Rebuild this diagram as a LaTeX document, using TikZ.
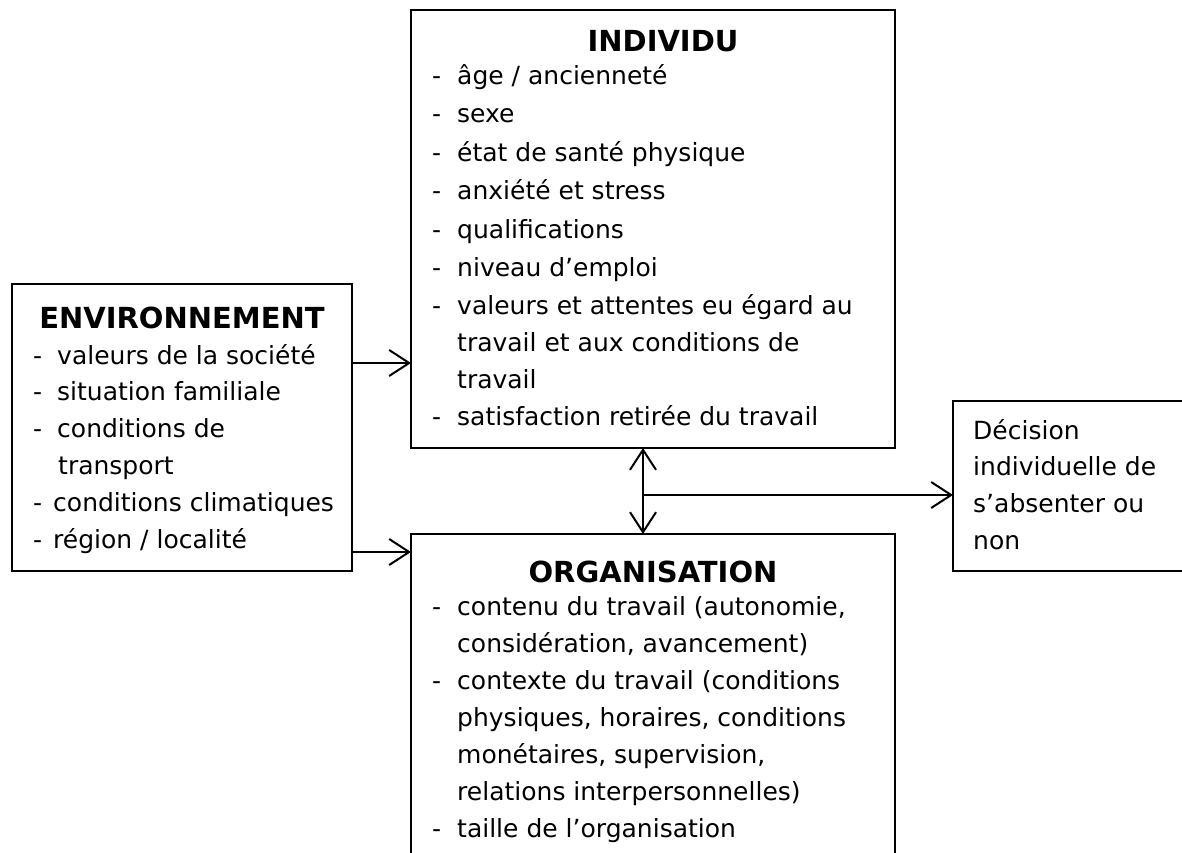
\documentclass[tikz,border=0pt]{standalone}
\usepackage{fontspec}
\setmainfont{DejaVu Sans}
\usetikzlibrary{arrows.meta}

\newlength{\du}
\setlength{\du}{10\unitlength}
\newcommand{\tiret}[1][25pt]{\makebox[#1][l]{-}}
\definecolor{dialinecolor}{rgb}{0.000000, 0.000000, 0.000000}
\tikzset{
  boite/.style={draw=dialinecolor, line width=0.25\du, inner sep=0pt, outer sep=0pt, anchor=north west},
  titre/.style={anchor=base, inner sep=0pt, font=\bfseries\fontsize{29}{35}\selectfont},
  ligne/.style={anchor=base west, inner sep=0pt, font=\fontsize{25}{30}\selectfont},
  fleche/.style={draw=dialinecolor, line width=0.2\du, -{Straight Barb[length=20pt,width=26pt]}},
  fleches/.style={draw=dialinecolor, line width=0.2\du, {Straight Barb[length=20pt,width=26pt]}-{Straight Barb[length=20pt,width=26pt]}},
}

\begin{document}
\begin{tikzpicture}
\pgftransformxscale{1.000000}
\pgftransformyscale{-1.000000}
\useasboundingbox (0\du,0\du) rectangle (118.2\du,85.3\du);
% boxes
\node[boite, minimum width=34.0\du, minimum height=28.7\du] (env) at (1.2\du,28.4\du) {};
\node[boite, minimum width=48.4\du, minimum height=43.8\du] (individu) at (41.1\du,1.0\du) {};
\node[boite, minimum width=48.4\du, minimum height=33.6\du] (organisation) at (41.1\du,53.4\du) {};
\node[boite, minimum width=24.7\du, minimum height=17.0\du] (decision) at (95.3\du,40.1\du) {};
% environnement
\node[titre] (env-titre) at (18.2\du,32.8\du) {ENVIRONNEMENT};
\node[ligne] (env-1) at (3.3\du,36.4\du) {\tiret[24pt]valeurs de la société};
\node[ligne] (env-2) at (3.3\du,40.0\du) {\tiret[24pt]situation familiale};
\node[ligne] (env-3) at (3.3\du,43.7\du) {\tiret[24pt]conditions de};
\node[ligne] (env-3b) at (5.8\du,47.4\du) {transport};
\node[ligne] (env-4) at (3.3\du,51.1\du) {\tiret[20pt]conditions climatiques};
\node[ligne] (env-5) at (3.3\du,54.8\du) {\tiret[20pt]région / localité};
% individu
\node[titre] (ind-titre) at (66.3\du,5.2\du) {INDIVIDU};
\node[ligne] (ind-1) at (43.2\du,8.5\du) {\tiret âge / ancienneté};
\node[ligne] (ind-2) at (43.2\du,12.3\du) {\tiret sexe};
\node[ligne] (ind-3) at (43.2\du,16.1\du) {\tiret état de santé physique};
\node[ligne] (ind-4) at (43.2\du,19.9\du) {\tiret anxiété et stress};
\node[ligne] (ind-5) at (43.2\du,23.8\du) {\tiret qualifications};
\node[ligne] (ind-6) at (43.2\du,27.6\du) {\tiret niveau d’emploi};
\node[ligne] (ind-7) at (43.2\du,31.4\du) {\tiret valeurs et attentes eu égard au};
\node[ligne] (ind-7b) at (45.7\du,35.1\du) {travail et aux conditions de};
\node[ligne] (ind-7c) at (45.7\du,38.8\du) {travail};
\node[ligne] (ind-8) at (43.2\du,42.5\du) {\tiret satisfaction retirée du travail};
% organisation
\node[titre] (org-titre) at (65.3\du,58.2\du) {ORGANISATION};
\node[ligne] (org-1) at (43.2\du,61.5\du) {\tiret contenu du travail (autonomie,};
\node[ligne] (org-1b) at (45.7\du,65.2\du) {considération, avancement)};
\node[ligne] (org-2) at (43.2\du,68.9\du) {\tiret contexte du travail (conditions};
\node[ligne] (org-2b) at (45.7\du,72.6\du) {physiques, horaires, conditions};
\node[ligne] (org-2c) at (45.7\du,76.3\du) {monétaires, supervision,};
\node[ligne] (org-2d) at (45.7\du,80.0\du) {relations interpersonnelles)};
\node[ligne] (org-3) at (43.2\du,83.7\du) {\tiret taille de l’organisation};
% decision
\node[ligne] (dec-1) at (97.3\du,43.9\du) {Décision};
\node[ligne] (dec-2) at (97.3\du,47.5\du) {individuelle de};
\node[ligne] (dec-3) at (97.3\du,51.2\du) {s’absenter ou};
\node[ligne] (dec-4) at (97.3\du,54.9\du) {non};
% arrows
\coordinate (haut) at (0\du,36.3\du);
\coordinate (bas) at (0\du,55.2\du);
\coordinate (milieu) at (64.3\du,49.5\du);
\draw[fleche] (env.east |- haut) -- (individu.west |- haut);
\draw[fleche] (env.east |- bas) -- (organisation.west |- bas);
\draw[fleches] (individu.south -| milieu) -- (organisation.north -| milieu);
\draw[fleche] (milieu) -- (decision.west |- milieu);
\end{tikzpicture}
\end{document}
